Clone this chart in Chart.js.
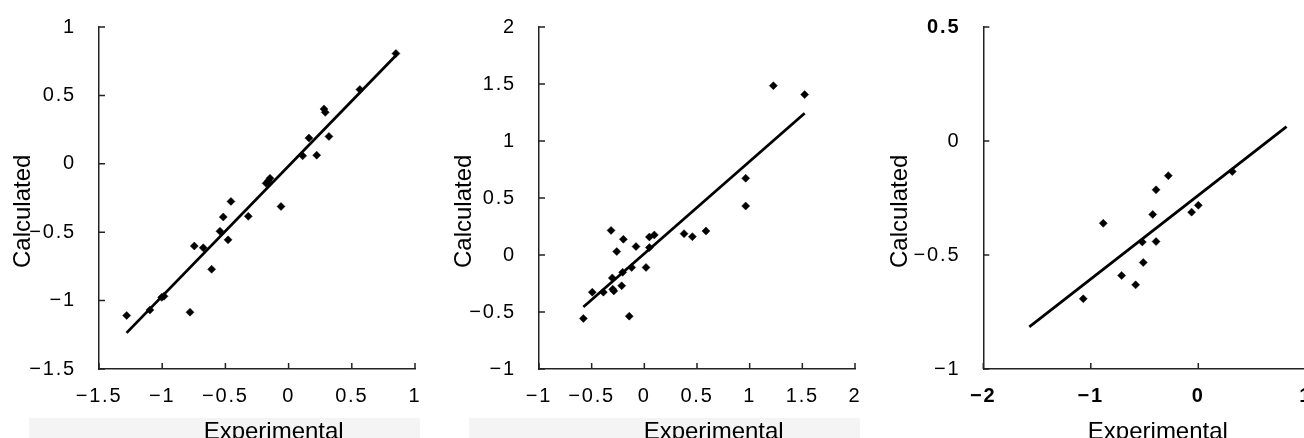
<!DOCTYPE html>
<html>
<head>
<meta charset="utf-8">
<script src="https://cdn.jsdelivr.net/npm/chart.js@4/dist/chart.umd.min.js"></script>
<style>
  html, body { margin: 0; padding: 0; background: #fff; overflow: hidden; width: 1304px; height: 438px; }
  canvas { position: absolute; top: 0; }
  #c1 { left: 0px; }
  #c2 { left: 440px; }
  #c3 { left: 870px; }
</style>
</head>
<body>
<canvas id="c1" width="440" height="450"></canvas>
<canvas id="c2" width="440" height="450"></canvas>
<canvas id="c3" width="450" height="450"></canvas>
<script>
// ---- Panel 1 data ----
const expX1 = [-1.281,-1.097,-1.004,-0.986,-0.780,-0.746,-0.675,-0.609,-0.543,-0.517,-0.479,-0.456,-0.319,-0.178,-0.160,-0.147,-0.060,0.111,0.161,0.222,0.280,0.290,0.319,0.564,0.849];
const calcY1 = [-1.109,-1.068,-0.976,-0.969,-1.085,-0.601,-0.614,-0.771,-0.493,-0.389,-0.556,-0.275,-0.384,-0.143,-0.125,-0.106,-0.312,0.058,0.188,0.063,0.401,0.376,0.200,0.543,0.806];
const fitX1 = [-1.282, 0.849];
const fitY1 = [-1.236, 0.792];
const xTicks1 = [-1.5,-1,-0.5,0,0.5,1];
const yTicks1 = [-1.5,-1,-0.5,0,0.5,1];

// ---- Panel 2 data ----
const expX2 = [-0.579,-0.494,-0.389,-0.316,-0.304,-0.300,-0.290,-0.262,-0.215,-0.199,-0.206,-0.143,-0.120,-0.079,0.016,0.048,0.048,0.095,0.377,0.456,0.585,0.962,0.962,1.225,1.522];
const calcY2 = [-0.557,-0.326,-0.326,0.216,-0.201,-0.300,-0.315,0.030,-0.270,0.138,-0.152,-0.537,-0.109,0.074,-0.109,0.065,0.158,0.176,0.187,0.161,0.210,0.673,0.430,1.485,1.407];
const fitX2 = [-0.579, 1.522];
const fitY2 = [-0.456, 1.244];
const xTicks2 = [-1,-0.5,0,0.5,1,1.5,2];
const yTicks2 = [-1,-0.5,0,0.5,1,1.5,2];

// ---- Panel 3 data ----
const expX3 = [-1.070,-0.884,-0.713,-0.583,-0.521,-0.512,-0.424,-0.393,-0.393,-0.279,-0.062,0.000,0.316];
const calcY3 = [-0.692,-0.361,-0.590,-0.631,-0.443,-0.533,-0.322,-0.214,-0.441,-0.152,-0.312,-0.282,-0.134];
const fitX3 = [-1.572, 0.821];
const fitY3 = [-0.815, 0.063];
const xTicks3 = [-2,-1,0,1];
const yTicks3 = [-1,-0.5,0,0.5];

const xTitle = 'Experimental';
const yTitle = 'Calculated';

Chart.defaults.font.family = '"Liberation Sans", Arial, sans-serif';
Chart.defaults.color = '#000';

const fmt = v => String(v).replace('-', '\u2212');
const NB = '\u00a0';

const innerTicks = {
  id: 'innerTicks',
  beforeDraw(chart) {
    const ctx = chart.ctx;
    ctx.letterSpacing = '0px';
    const o = chart.options.plugins.innerTicks || {};
    if (o.band) {
      const a = chart.chartArea;
      ctx.save();
      ctx.fillStyle = '#f4f4f4';
      ctx.fillRect(a.left - 70, 418, (a.right + 5) - (a.left - 70), chart.height - 418);
      ctx.restore();
    }
  },
  afterDatasetsDraw(chart) {
    chart.ctx.letterSpacing = '1.8px';
  },
  afterDraw(chart) {
    const ctx = chart.ctx;
    ctx.letterSpacing = '0px';
    const a = chart.chartArea, xs = chart.scales.x, ys = chart.scales.y;
    ctx.save();
    ctx.strokeStyle = '#222';
    ctx.lineWidth = 1.5;
    ctx.beginPath();
    xs.ticks.forEach(t => { const p = xs.getPixelForValue(t.value); ctx.moveTo(p, a.bottom); ctx.lineTo(p, a.bottom - 6); });
    ys.ticks.forEach(t => { const p = ys.getPixelForValue(t.value); ctx.moveTo(a.left, p); ctx.lineTo(a.left + 6, p); });
    ctx.stroke();
    ctx.restore();
  }
};

function makePanel(id, xs, ys, fx, fy, xt, yt, opt) {
  const pts = xs.map((v, i) => ({ x: v, y: ys[i] }));
  const fit = fx.map((v, i) => ({ x: v, y: fy[i] }));
  new Chart(document.getElementById(id), {
    type: 'scatter',
    data: {
      datasets: [
        { data: fit, type: 'line', showLine: true, borderColor: '#000', borderWidth: 2.8, pointRadius: 0, fill: false, order: 2 },
        { data: pts, pointStyle: 'rectRot', pointRadius: 4, pointHoverRadius: 4, backgroundColor: '#000', borderColor: '#000', borderWidth: 0.5, order: 1 }
      ]
    },
    options: {
      responsive: false,
      animation: false,
      devicePixelRatio: 1,
      layout: { padding: { top: 24, right: opt.padRight, left: 0, bottom: 0 } },
      plugins: { legend: { display: false }, tooltip: { enabled: false }, innerTicks: { band: opt.band } },
      scales: {
        x: {
          type: 'linear', position: 'bottom',
          min: xt[0], max: xt[xt.length - 1],
          afterBuildTicks: s => { s.ticks = xt.map(v => ({ value: v })); },
          afterFit: s => { s.height = 81; },
          grid: { display: false },
          border: { display: true, color: '#222', width: 1.5 },
          ticks: { z: 1, padding: 7, maxRotation: 0, autoSkip: false, callback: fmt,
                   font: { size: 20, weight: opt.boldX ? 'bold' : 'normal' }, color: '#000' },
          title: { display: true, text: NB.repeat(opt.xShift) + xTitle, font: { size: 24 }, color: '#000', padding: { top: 0, bottom: 3.6 } }
        },
        y: {
          type: 'linear', position: 'left',
          min: yt[0], max: yt[yt.length - 1],
          afterBuildTicks: s => { s.ticks = yt.map(v => ({ value: v })); },
          afterFit: s => { s.width = opt.yWidth; },
          grid: { display: false },
          border: { display: true, color: '#222', width: 1.5 },
          ticks: { z: 1, padding: 15, autoSkip: false, callback: fmt,
                   font: c => ({ size: 20, weight: (opt.boldTopY && c.tick && c.tick.value === yt[yt.length - 1]) ? 'bold' : 'normal' }), color: '#000' },
          title: { display: true, text: yTitle + NB.repeat(4), font: { size: 24 }, color: '#000', padding: { top: opt.yTitlePad, bottom: 0 } }
        }
      }
    },
    plugins: [innerTicks]
  });
}

makePanel('c1', expX1, calcY1, fitX1, fitY1, xTicks1, yTicks1, { padRight: 25, yWidth: 99, yTitlePad: 8.6, xShift: 5, band: true });
makePanel('c2', expX2, calcY2, fitX2, fitY2, xTicks2, yTicks2, { padRight: 25, yWidth: 99, yTitlePad: 9.6, xShift: 5, band: true });
makePanel('c3', expX3, calcY3, fitX3, fitY3, xTicks3, yTicks3, { padRight: 14.2, yWidth: 113.3, yTitlePad: 16.4, xShift: 4, band: false, boldX: true, boldTopY: true });
</script>
</body>
</html>
